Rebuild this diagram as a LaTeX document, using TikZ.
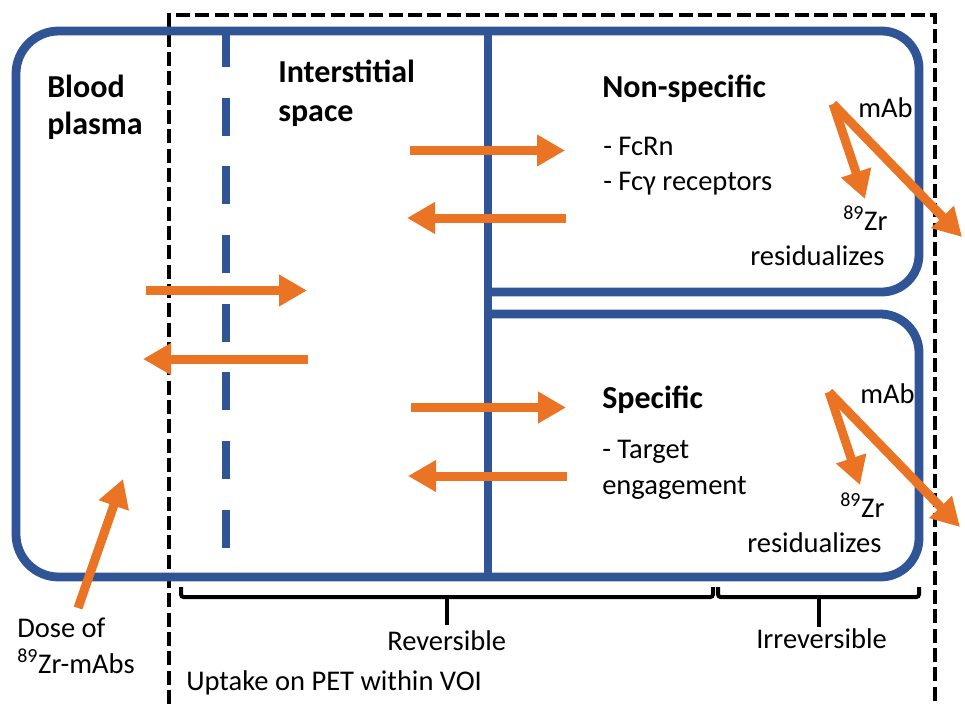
\documentclass[tikz,border=0pt]{standalone}
\usepackage{fontspec}
\setmainfont{Carlito}
\usetikzlibrary{arrows.meta}
\definecolor{cblue}{HTML}{2F5597}
\definecolor{corange}{HTML}{EB7424}
\begin{document}
\begin{tikzpicture}[x=0.75pt,y=-0.75pt,
 blueline/.style={draw=cblue,line width=6.6pt},
 oarrow/.style={draw=corange,line width=6.75pt,-{Triangle[length=21pt,width=22.5pt]}},
 boldtxt/.style={font=\fontsize{24}{29}\selectfont\bfseries,inner sep=0pt,anchor=base west},
 txt/.style={font=\fontsize{21.4}{26}\selectfont,inner sep=0pt,anchor=base west},
 bracket/.style={draw=black,line width=3pt,rounded corners=2pt},
 voi/.style={draw=black,line width=3pt,dash pattern=on 10.5pt off 4pt}]
\useasboundingbox (0,0) rectangle (965,704);

% VOI dashed frame
\draw[voi] (169,704) -- (169,15) -- (935,15) -- (935,704);

% compartments
\draw[blueline,rounded corners=32pt] (488,31) -- (16,31) -- (16,577) -- (488,577);
\draw[blueline] (488,31) -- (488,577);
\draw[blueline,rounded corners=28pt] (488,31) -- (919,31) -- (919,292) -- (488,292);
\draw[blueline,rounded corners=29pt] (488,314) -- (919,314) -- (919,577) -- (488,577);
% capillary wall
\draw[draw=cblue,line width=6.2pt,dash pattern=on 28.5pt off 23pt] (226,29) -- (226,548);

% labels
\node[boldtxt] (blood1) at (47,97) {Blood};
\node[boldtxt] (blood2) at (47,134) {plasma};
\node[boldtxt] (inter1) at (278,82) {Interstitial};
\node[boldtxt] (inter2) at (278,121) {space};
\node[boldtxt] (nons) at (602,97) {Non-specific};
\node[txt] (fcrn) at (603,155) {- FcRn};
\node[txt] (fcg) at (603,190) {- Fcγ receptors};
\node[txt] (mab1) at (858,117) {mAb};
\node[txt] (zr1) at (843,230) {\textsuperscript{89}Zr};
\node[txt] (res1) at (750,265) {residualizes};
\node[boldtxt] (spec) at (602,408) {Specific};
\node[txt] (targ1) at (602,458) {- Target};
\node[txt] (targ2) at (602,494) {engagement};
\node[txt] (mab2) at (860,403) {mAb};
\node[txt] (zr2) at (840,517) {\textsuperscript{89}Zr};
\node[txt] (res2) at (747,552) {residualizes};
\node[txt] (dose1) at (17,637) {Dose of};
\node[txt] (dose2) at (17,673) {\textsuperscript{89}Zr-mAbs};
\node[txt] (rev) at (387,650) {Reversible};
\node[txt] (irr) at (756,648) {Irreversible};
\node[txt] (voil) at (186,690) {Uptake on PET within VOI};

% brackets
\draw[bracket] (181,587) -- (181,597) -- (713,597) -- (713,587);
\draw[bracket] (447,597) -- (447,625);
\draw[bracket] (718,587) -- (718,597) -- (919,597) -- (919,587);
\draw[bracket] (819,597) -- (819,627);

% arrow end points
\coordinate (a1s) at (410,150.5); \coordinate (a1e) at (565,150.5);
\coordinate (a2s) at (566,218); \coordinate (a2e) at (407,218);
\coordinate (a3s) at (146,290.5); \coordinate (a3e) at (307,290.5);
\coordinate (a4s) at (308,359); \coordinate (a4e) at (143,359);
\coordinate (a5s) at (411,407.5); \coordinate (a5e) at (566,407.5);
\coordinate (a6s) at (567,476); \coordinate (a6e) at (408,476);
\coordinate (d0) at (78,608); \coordinate (d1) at (123,479);
\coordinate (n0) at (833,104); \coordinate (n1) at (865,199); \coordinate (n2) at (962,237);
\coordinate (s0) at (829,392); \coordinate (s1) at (860,485); \coordinate (s2) at (960,527);

\draw[oarrow] (a1s) -- (a1e);
\draw[oarrow] (a2s) -- (a2e);
\draw[oarrow] (a3s) -- (a3e);
\draw[oarrow] (a4s) -- (a4e);
\draw[oarrow] (a5s) -- (a5e);
\draw[oarrow] (a6s) -- (a6e);
\draw[oarrow] (d0) -- (d1);
\draw[oarrow] (n0) -- (n1);
\draw[oarrow] (n0) -- (n2);
\draw[oarrow] (s0) -- (s1);
\draw[oarrow] (s0) -- (s2);
\end{tikzpicture}
\end{document}
